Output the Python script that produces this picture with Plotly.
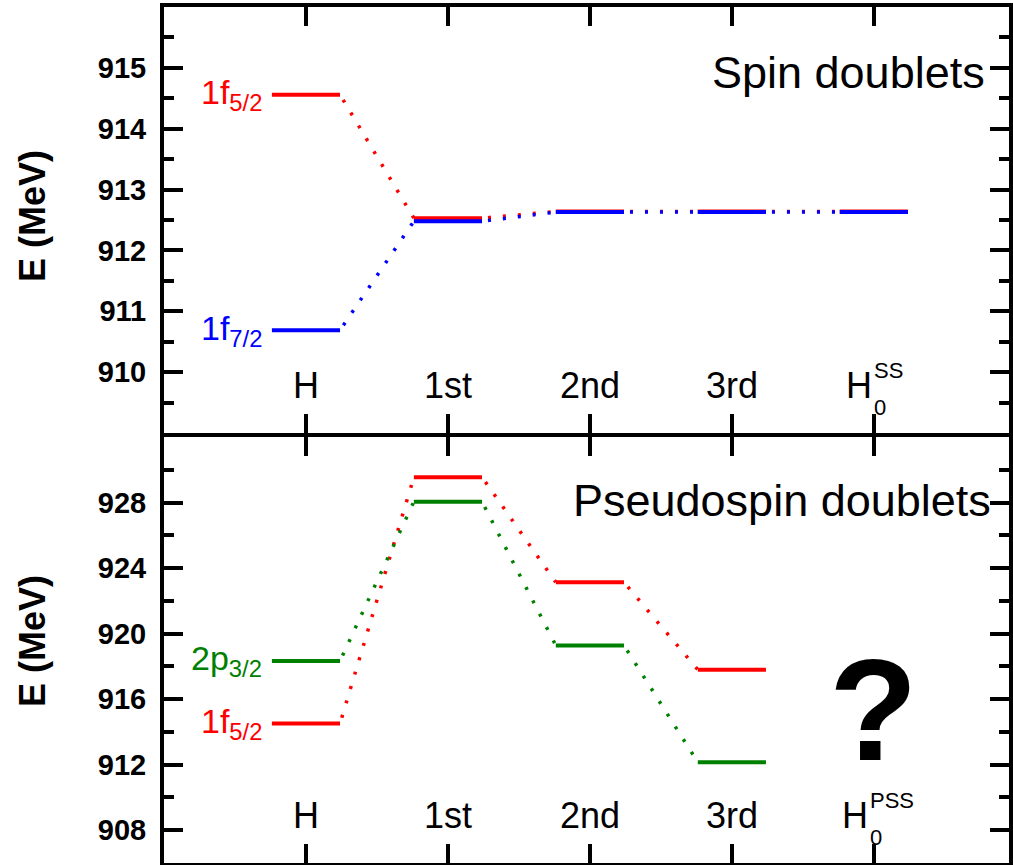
import plotly.graph_objects as go

# ---------------- data ----------------
categories = ["H", "1st", "2nd", "3rd", "H"]
cat_pos = [1, 2, 3, 4, 5]
h0_sub = "0"
h0_sup_top = "SS"
h0_sup_bottom = "PSS"

# Spin doublets (top panel), MeV
spin_1f52 = [914.56, 912.53, 912.64, 912.64, 912.64]
spin_1f72 = [910.69, 912.48, 912.63, 912.63, 912.63]

# Pseudospin doublets (bottom panel), MeV  (H0^PSS unknown)
pspin_1f52 = [914.52, 929.55, 923.13, 917.80]
pspin_2p32 = [918.33, 928.05, 919.28, 912.15]

spin_yticks = [910, 911, 912, 913, 914, 915]
spin_yminor = [909.5, 910.5, 911.5, 912.5, 913.5, 914.5, 915.5]
pspin_yticks = [908, 912, 916, 920, 924, 928]
pspin_yminor = [910, 914, 918, 922, 926, 930]

RED, BLUE, GREEN = "#FF0000", "#0000FF", "#008000"
FONT = "Arial, Liberation Sans, sans-serif"
HW = 0.24  # half width of a level bar (x units)
PLOT_H = 865 - 7 - 2
GAP = 2.0 / PLOT_H  # half of the line width so both spines meet on one line


def level_xy(vals):
    xs, ys = [], []
    for p, v in zip(cat_pos, vals):
        xs += [p - HW, p + HW, None]
        ys += [v, v, None]
    return xs, ys


def conn_xy(vals):
    xs, ys = [], []
    for i in range(len(vals) - 1):
        xs += [cat_pos[i] + HW, cat_pos[i + 1] - HW, None]
        ys += [vals[i], vals[i + 1], None]
    return xs, ys


fig = go.Figure()


def add_series(vals, color, xa, ya):
    cx, cy = conn_xy(vals)
    fig.add_trace(go.Scatter(x=cx, y=cy, mode="lines", xaxis=xa, yaxis=ya,
                             line=dict(color=color, width=3.5, dash="0px,6px,3px,6px"),
                             showlegend=False, hoverinfo="skip"))
    lx, ly = level_xy(vals)
    fig.add_trace(go.Scatter(x=lx, y=ly, mode="lines", xaxis=xa, yaxis=ya,
                             line=dict(color=color, width=4),
                             showlegend=False, hoverinfo="skip"))


add_series(spin_1f52, RED, "x", "y")
add_series(spin_1f72, BLUE, "x", "y")
add_series(pspin_1f52, RED, "x2", "y2")
add_series(pspin_2p32, GREEN, "x2", "y2")

axis_common = dict(showline=True, linewidth=4, linecolor="black", mirror="ticks",
                   ticks="inside", ticklen=19, tickwidth=3.5, tickcolor="black",
                   showgrid=False, zeroline=False)

xcommon = dict(range=[0, 5.952], tickmode="array", tickvals=cat_pos,
               showticklabels=False, **axis_common)

ycommon = dict(tickfont=dict(family=FONT, size=29, color="black", weight="bold"),
               ticklabelstandoff=8, **axis_common)

fig.update_layout(
    width=1013, height=865,
    margin=dict(l=164, r=0, t=7, b=2),
    paper_bgcolor="white", plot_bgcolor="white",
    xaxis=dict(anchor="y", **xcommon),
    xaxis2=dict(anchor="y2", **xcommon),
    yaxis=dict(domain=[0.5 + GAP, 1], anchor="x", range=[909, 916], tickmode="array",
               tickvals=spin_yticks,
               minor=dict(tickmode="array", tickvals=spin_yminor, ticks="inside",
                          ticklen=10, tickwidth=3.5, tickcolor="black"),
               **ycommon),
    yaxis2=dict(domain=[0, 0.5 - GAP], anchor="x2", range=[906, 932], tickmode="array",
                tickvals=pspin_yticks,
                minor=dict(tickmode="array", tickvals=pspin_yminor, ticks="inside",
                           ticklen=10, tickwidth=3.5, tickcolor="black"),
                **ycommon),
    showlegend=False,
)

ann = []
# axis titles
for yr, ysh in (("y domain", 4), ("y2 domain", 9)):
    ann.append(dict(text="<b>E (MeV)</b>", xref="paper", x=0, xshift=-132, xanchor="center",
                    yref=yr, y=0.5, yshift=ysh, yanchor="middle", textangle=-90,
                    showarrow=False, font=dict(family=FONT, size=36, color="black")))

# category labels
for (xr, yr, sup, hshift) in (("x", "y domain", h0_sup_top, 0), ("x2", "y2 domain", h0_sup_bottom, -4)):
    for p, c in zip(cat_pos[:-1], categories[:-1]):
        ann.append(dict(text=c, xref=xr, x=p, xanchor="center", yref=yr, y=0, yshift=48,
                        yanchor="middle", showarrow=False,
                        font=dict(family=FONT, size=36, color="black")))
    p = cat_pos[-1]
    ann.append(dict(text=categories[-1], xref=xr, x=p, xanchor="right", xshift=hshift,
                    yref=yr, y=0, yshift=48, yanchor="middle", showarrow=False,
                    font=dict(family=FONT, size=36, color="black")))
    ann.append(dict(text=h0_sub, xref=xr, x=p, xanchor="left", xshift=hshift - 2,
                    yref=yr, y=0, yshift=26, yanchor="middle", showarrow=False,
                    font=dict(family=FONT, size=22, color="black")))
    ann.append(dict(text=sup, xref=xr, x=p, xanchor="left", xshift=hshift - 2,
                    yref=yr, y=0, yshift=63, yanchor="middle", showarrow=False,
                    font=dict(family=FONT, size=22, color="black")))

# level labels
for txt, val, col, xr, yr in (
        ("1f<sub>5/2</sub>", spin_1f52[0], RED, "x", "y"),
        ("1f<sub>7/2</sub>", spin_1f72[0], BLUE, "x", "y"),
        ("2p<sub>3/2</sub>", pspin_2p32[0], GREEN, "x2", "y2"),
        ("1f<sub>5/2</sub>", pspin_1f52[0], RED, "x2", "y2")):
    ann.append(dict(text=txt, xref=xr, x=cat_pos[0] - HW, xanchor="right", xshift=-8,
                    yref=yr, y=val, yanchor="middle", showarrow=False,
                    font=dict(family=FONT, size=34, color=col)))

# panel titles
ann.append(dict(text="Spin doublets", xref="paper", x=1, xanchor="right", xshift=-22,
                yref="y domain", y=1, yanchor="middle", yshift=-65, showarrow=False,
                font=dict(family=FONT, size=45, color="black")))
ann.append(dict(text="Pseudospin doublets", xref="paper", x=1, xanchor="right", xshift=-16,
                yref="y2 domain", y=1, yanchor="middle", yshift=-64, showarrow=False,
                font=dict(family=FONT, size=45, color="black")))

# unknown H0^PSS
ann.append(dict(text="<b>?</b>", xref="x2", x=cat_pos[-1], xanchor="center", xshift=0,
                yref="y2 domain", y=0, yshift=153, yanchor="middle", showarrow=False,
                font=dict(family=FONT, size=145, color="black")))

fig.update_layout(annotations=ann)
fig.write_html("out.html")
